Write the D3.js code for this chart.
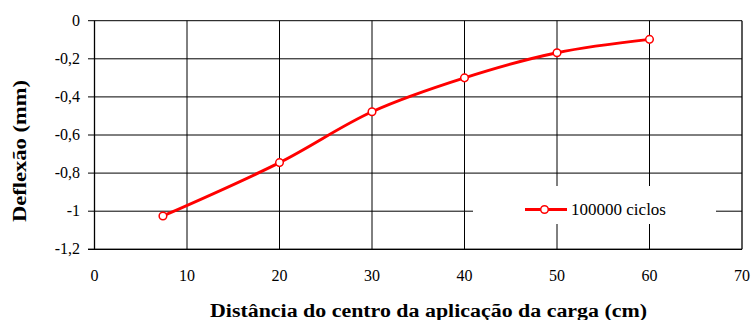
<!DOCTYPE html>
<html>
<head>
<meta charset="utf-8">
<script src="https://cdn.jsdelivr.net/npm/d3@7"></script>
<style>
  html, body { margin: 0; padding: 0; background: #fff; }
  svg { display: block; }
</style>
</head>
<body>
<svg id="chart" width="751" height="320"></svg>
<script>
// Deflection measured at increasing distance from the load centre
const distances = [7.4, 20, 30, 40, 50, 60];
const deflections = [-1.025, -0.745, -0.478, -0.3, -0.168, -0.098];
const seriesName = "100000 ciclos";
const xTicks = [0, 10, 20, 30, 40, 50, 60, 70];
const yTicks = [0, -0.2, -0.4, -0.6, -0.8, -1, -1.2];
const xTitle = "Distância do centro da aplicação da carga (cm)";
const yTitle = "Deflexão (mm)";

const FONT = "'Liberation Serif'";

const svg = d3.select("#chart");
const plotLeft = 94.5, plotRight = 742, plotTop = 20.7, plotBottom = 249.3;

const x = d3.scaleLinear().domain([0, 70]).range([plotLeft, plotRight]);
const y = d3.scaleLinear().domain([-1.2, 0]).range([plotBottom, plotTop]);

const fmt = v => (v === 0 ? "0" : d3.format(".1~f")(v).replace(".", ",").replace("−", "-"));

// horizontal gridlines, extended left as tick marks
svg.append("g")
  .selectAll("line")
  .data(yTicks)
  .join("line")
  .attr("x1", plotLeft - 6.5).attr("x2", plotRight)
  .attr("y1", d => y(d)).attr("y2", d => y(d))
  .attr("stroke", "#000").attr("stroke-width", 1);

// vertical gridlines
svg.append("g")
  .selectAll("line")
  .data(xTicks.filter(d => d > 0 && d < 70))
  .join("line")
  .attr("x1", d => x(d)).attr("x2", d => x(d))
  .attr("y1", plotTop).attr("y2", plotBottom)
  .attr("stroke", "#000").attr("stroke-width", 1);

// plot frame: left axis, right edge, bottom edge
svg.append("line").attr("x1", plotLeft).attr("x2", plotLeft).attr("y1", plotTop).attr("y2", plotBottom)
  .attr("stroke", "#000").attr("stroke-width", 1.3);
svg.append("line").attr("x1", plotRight).attr("x2", plotRight).attr("y1", plotTop).attr("y2", plotBottom)
  .attr("stroke", "#000").attr("stroke-width", 1.3);
svg.append("line").attr("x1", plotLeft - 6.5).attr("x2", plotRight).attr("y1", plotBottom).attr("y2", plotBottom)
  .attr("stroke", "#000").attr("stroke-width", 1.3);

// y tick labels
svg.append("g")
  .selectAll("text")
  .data(yTicks)
  .join("text")
  .attr("x", 80).attr("y", d => y(d) + 5)
  .attr("text-anchor", "end")
  .style("font-family", FONT)
  .style("font-size", "16px")
  .text(fmt);

// x tick labels
svg.append("g")
  .selectAll("text")
  .data(xTicks)
  .join("text")
  .attr("x", d => x(d)).attr("y", 281)
  .attr("text-anchor", "middle")
  .style("font-family", FONT)
  .style("font-size", "16px")
  .text(d => d);

// axis titles, stretched to the wide setting of the original typeface
svg.append("text")
  .attr("x", 210).attr("y", 317)
  .attr("textLength", 437).attr("lengthAdjust", "spacingAndGlyphs")
  .style("font-family", FONT)
  .style("font-size", "18px").style("font-weight", "bold")
  .text(xTitle);

svg.append("text")
  .attr("transform", `translate(26,222) rotate(-90)`)
  .attr("textLength", 142).attr("lengthAdjust", "spacingAndGlyphs")
  .style("font-family", FONT)
  .style("font-size", "18px").style("font-weight", "bold")
  .text(yTitle);

// legend background hides the gridlines underneath
svg.append("rect")
  .attr("x", 473).attr("y", 186).attr("width", 243).attr("height", 38)
  .attr("fill", "#fff");

// series line (smoothed) and markers
const pts = distances.map((d, i) => [d, deflections[i]]);
const line = d3.line()
  .x(d => x(d[0])).y(d => y(d[1]))
  .curve(d3.curveCatmullRom.alpha(0.5));

svg.append("path")
  .datum(pts)
  .attr("d", line)
  .attr("fill", "none")
  .attr("stroke", "#ff0000")
  .attr("stroke-width", 3);

svg.append("g")
  .selectAll("circle")
  .data(pts)
  .join("circle")
  .attr("cx", d => x(d[0])).attr("cy", d => y(d[1]))
  .attr("r", 3.8)
  .attr("fill", "#fff")
  .attr("stroke", "#ff0000")
  .attr("stroke-width", 1.5);

// legend entry
const ly = 209.5;
svg.append("line").attr("x1", 525).attr("x2", 567).attr("y1", ly).attr("y2", ly)
  .attr("stroke", "#ff0000").attr("stroke-width", 3);
svg.append("circle").attr("cx", 544.5).attr("cy", ly).attr("r", 3.8)
  .attr("fill", "#fff").attr("stroke", "#ff0000").attr("stroke-width", 1.5);
svg.append("text").attr("x", 571).attr("y", ly + 5)
  .attr("textLength", 95).attr("lengthAdjust", "spacingAndGlyphs")
  .style("font-family", FONT)
  .style("font-size", "16px")
  .text(seriesName);
</script>
</body>
</html>
